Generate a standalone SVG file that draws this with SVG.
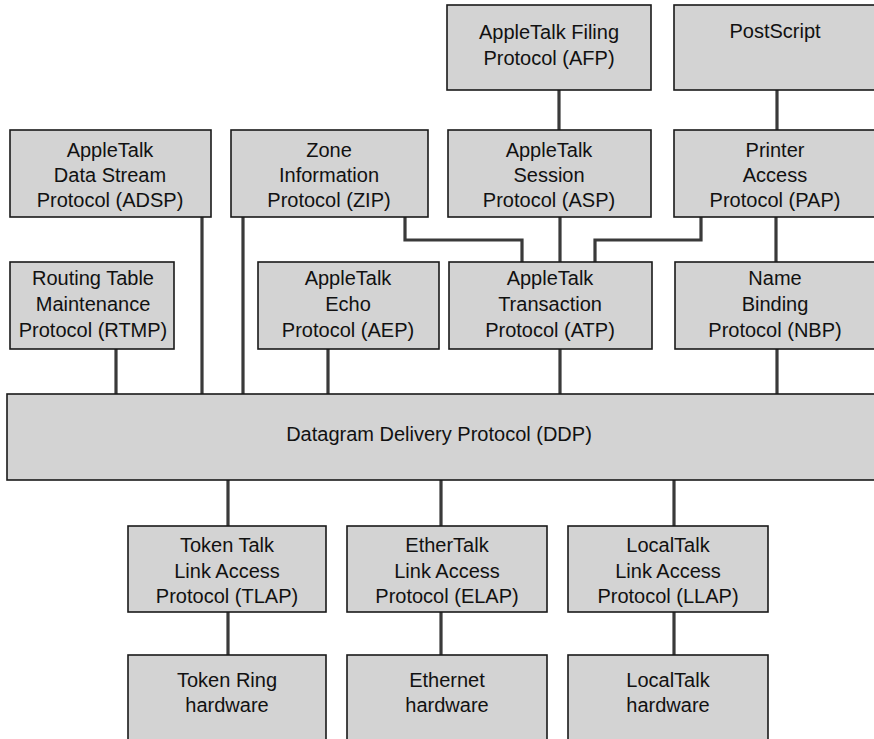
<svg xmlns="http://www.w3.org/2000/svg" width="874" height="739" viewBox="0 0 874 739">
<style>
.box{fill:#d3d3d3;stroke:#1a1a1a;stroke-width:1.6}
.t{font-family:"Liberation Sans",Arial,sans-serif;font-size:20px;fill:#111;text-anchor:middle}
.c{fill:none;stroke:#3a3a3a;stroke-width:3.2}
</style>
<rect width="874" height="739" fill="#fff"/>
<g id="connectors">
<path class="c" d="M559,90V130"/>
<path class="c" d="M777,90V130"/>
<path class="c" d="M202,217V394"/>
<path class="c" d="M243,217V394"/>
<path class="c" d="M405,217V240H522V262"/>
<path class="c" d="M560,217V262"/>
<path class="c" d="M701,217V240H595V262"/>
<path class="c" d="M776,217V262"/>
<path class="c" d="M116,349V394"/>
<path class="c" d="M328,349V394"/>
<path class="c" d="M560,349V394"/>
<path class="c" d="M777,349V394"/>
<path class="c" d="M228,480V526"/>
<path class="c" d="M441,480V526"/>
<path class="c" d="M674,480V526"/>
<path class="c" d="M228,612V655"/>
<path class="c" d="M441,612V655"/>
<path class="c" d="M674,612V655"/>
</g>
<g id="afp"><rect class="box" x="447" y="5" width="204" height="85"/>
<text class="t" x="549" y="39">AppleTalk Filing</text><text class="t" x="549" y="65">Protocol (AFP)</text></g>
<g id="postscript"><rect class="box" x="674" y="5" width="203" height="85"/>
<text class="t" x="775" y="38">PostScript</text></g>
<g id="adsp"><rect class="box" x="10" y="130" width="201" height="87"/>
<text class="t" x="110" y="157">AppleTalk</text><text class="t" x="110" y="182">Data Stream</text><text class="t" x="110" y="207">Protocol (ADSP)</text></g>
<g id="zip"><rect class="box" x="231" y="130" width="197" height="87"/>
<text class="t" x="329" y="157">Zone</text><text class="t" x="329" y="182">Information</text><text class="t" x="329" y="207">Protocol (ZIP)</text></g>
<g id="asp"><rect class="box" x="448" y="130" width="203" height="87"/>
<text class="t" x="549" y="157">AppleTalk</text><text class="t" x="549" y="182">Session</text><text class="t" x="549" y="207">Protocol (ASP)</text></g>
<g id="pap"><rect class="box" x="674" y="130" width="203" height="87"/>
<text class="t" x="775" y="157">Printer</text><text class="t" x="775" y="182">Access</text><text class="t" x="775" y="207">Protocol (PAP)</text></g>
<g id="rtmp"><rect class="box" x="10" y="262" width="164" height="87"/>
<text class="t" x="93" y="285">Routing Table</text><text class="t" x="93" y="311">Maintenance</text><text class="t" x="93" y="337">Protocol (RTMP)</text></g>
<g id="aep"><rect class="box" x="258" y="262" width="181" height="87"/>
<text class="t" x="348" y="285">AppleTalk</text><text class="t" x="348" y="311">Echo</text><text class="t" x="348" y="337">Protocol (AEP)</text></g>
<g id="atp"><rect class="box" x="449" y="262" width="203" height="87"/>
<text class="t" x="550" y="285">AppleTalk</text><text class="t" x="550" y="311">Transaction</text><text class="t" x="550" y="337">Protocol (ATP)</text></g>
<g id="nbp"><rect class="box" x="675" y="262" width="202" height="87"/>
<text class="t" x="775" y="285">Name</text><text class="t" x="775" y="311">Binding</text><text class="t" x="775" y="337">Protocol (NBP)</text></g>
<g id="ddp"><rect class="box" x="7" y="394" width="872" height="86"/>
<text class="t" x="439" y="441">Datagram Delivery Protocol (DDP)</text></g>
<g id="tlap"><rect class="box" x="128" y="526" width="198" height="86"/>
<text class="t" x="227" y="552">Token Talk</text><text class="t" x="227" y="578">Link Access</text><text class="t" x="227" y="603">Protocol (TLAP)</text></g>
<g id="elap"><rect class="box" x="347" y="526" width="200" height="86"/>
<text class="t" x="447" y="552">EtherTalk</text><text class="t" x="447" y="578">Link Access</text><text class="t" x="447" y="603">Protocol (ELAP)</text></g>
<g id="llap"><rect class="box" x="568" y="526" width="200" height="86"/>
<text class="t" x="668" y="552">LocalTalk</text><text class="t" x="668" y="578">Link Access</text><text class="t" x="668" y="603">Protocol (LLAP)</text></g>
<g id="tokenring"><rect class="box" x="128" y="655" width="198" height="95"/>
<text class="t" x="227" y="687">Token Ring</text><text class="t" x="227" y="712">hardware</text></g>
<g id="ethernet"><rect class="box" x="347" y="655" width="200" height="95"/>
<text class="t" x="447" y="687">Ethernet</text><text class="t" x="447" y="712">hardware</text></g>
<g id="localtalk"><rect class="box" x="568" y="655" width="200" height="95"/>
<text class="t" x="668" y="687">LocalTalk</text><text class="t" x="668" y="712">hardware</text></g>
</svg>
